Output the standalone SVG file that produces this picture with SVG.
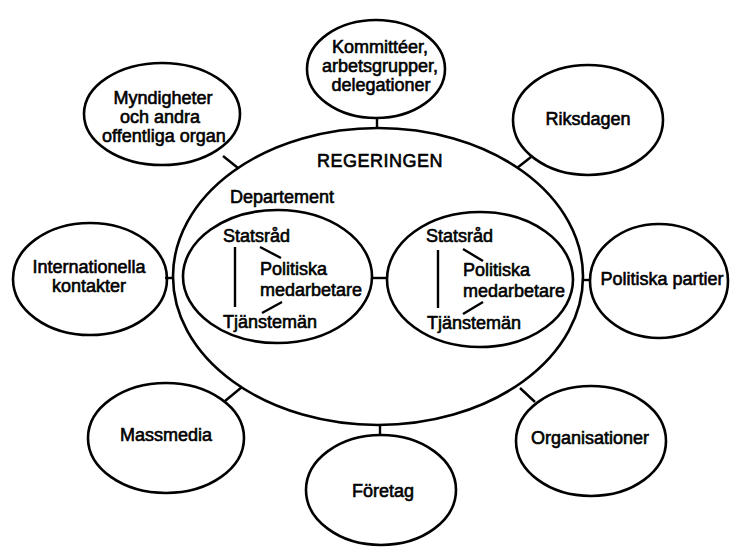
<svg xmlns="http://www.w3.org/2000/svg" width="731" height="547" viewBox="0 0 731 547">
<style>
  .n { fill: #fff; stroke: #000; stroke-width: 2.6; }
  .c { stroke: #000; stroke-width: 2.4; fill: none; stroke-linecap: butt; }
  text { font-family: "Liberation Sans", Arial, sans-serif; font-size: 18px; fill: #000; stroke: #000; stroke-width: 0.6; text-anchor: middle; }
  .l { text-anchor: start; }
</style>
<rect width="731" height="547" fill="#fff"/>
<g id="regeringen">
  <ellipse class="n" cx="378" cy="276.5" rx="205" ry="148.5"/>
  <text x="380" y="167" letter-spacing="0.5">REGERINGEN</text>
  <text class="l" x="230" y="203">Departement</text>
</g>
<g id="departement1">
  <ellipse class="n" cx="277.5" cy="276.5" rx="94.5" ry="66.5"/>
  <text class="l" x="223" y="242">Statsråd</text>
  <text class="l" x="260" y="275">Politiska</text>
  <text class="l" x="260" y="296">medarbetare</text>
  <text class="l" x="223" y="328">Tjänstemän</text>
</g>
<g id="departement2">
  <ellipse class="n" cx="480" cy="279.5" rx="93" ry="67.5"/>
  <text class="l" x="426" y="242">Statsråd</text>
  <text class="l" x="463" y="276">Politiska</text>
  <text class="l" x="463" y="297">medarbetare</text>
  <text class="l" x="427" y="329">Tjänstemän</text>
</g>
<g id="kommitteer">
  <ellipse class="n" cx="376" cy="69" rx="69" ry="49"/>
  <text x="380" y="53">Kommittéer,</text>
  <text x="380" y="72">arbetsgrupper,</text>
  <text x="381" y="91">delegationer</text>
</g>
<g id="myndigheter">
  <ellipse class="n" cx="162" cy="114" rx="78" ry="51"/>
  <text x="163" y="104">Myndigheter</text>
  <text x="160" y="123">och andra</text>
  <text x="164" y="142">offentliga organ</text>
</g>
<g id="riksdagen">
  <ellipse class="n" cx="588" cy="120" rx="75" ry="55"/>
  <text x="588" y="125">Riksdagen</text>
</g>
<g id="internationella">
  <ellipse class="n" cx="90" cy="279" rx="77" ry="56"/>
  <text x="89" y="273">Internationella</text>
  <text x="89" y="292">kontakter</text>
</g>
<g id="politiska-partier">
  <ellipse class="n" cx="659" cy="281" rx="69" ry="57"/>
  <text x="662" y="285">Politiska partier</text>
</g>
<g id="massmedia">
  <ellipse class="n" cx="166" cy="438" rx="78" ry="55"/>
  <text x="166" y="441">Massmedia</text>
</g>
<g id="foretag">
  <ellipse class="n" cx="381" cy="490" rx="75" ry="55"/>
  <text x="383" y="497">Företag</text>
</g>
<g id="organisationer">
  <ellipse class="n" cx="591" cy="441" rx="75" ry="55"/>
  <text x="590" y="444">Organisationer</text>
</g>
<g id="connectors">
  <line class="c" x1="377" y1="117" x2="377" y2="129"/>
  <line class="c" x1="223" y1="156" x2="238" y2="168"/>
  <line class="c" x1="531" y1="157" x2="517" y2="168"/>
  <line class="c" x1="165" y1="278" x2="174" y2="278"/>
  <line class="c" x1="582" y1="280" x2="591" y2="280"/>
  <line class="c" x1="225" y1="401" x2="242" y2="387"/>
  <line class="c" x1="520" y1="388" x2="535" y2="402"/>
  <line class="c" x1="380" y1="424" x2="380" y2="436"/>
  <line class="c" x1="371" y1="278" x2="388" y2="278"/>
  <line class="c" x1="235" y1="247" x2="235" y2="307"/>
  <line class="c" x1="260" y1="247" x2="281" y2="258"/>
  <line class="c" x1="262" y1="313" x2="282" y2="302"/>
  <line class="c" x1="438" y1="250" x2="438" y2="308"/>
  <line class="c" x1="463" y1="249" x2="483" y2="261"/>
  <line class="c" x1="463" y1="314" x2="483" y2="302"/>
</g>
</svg>
